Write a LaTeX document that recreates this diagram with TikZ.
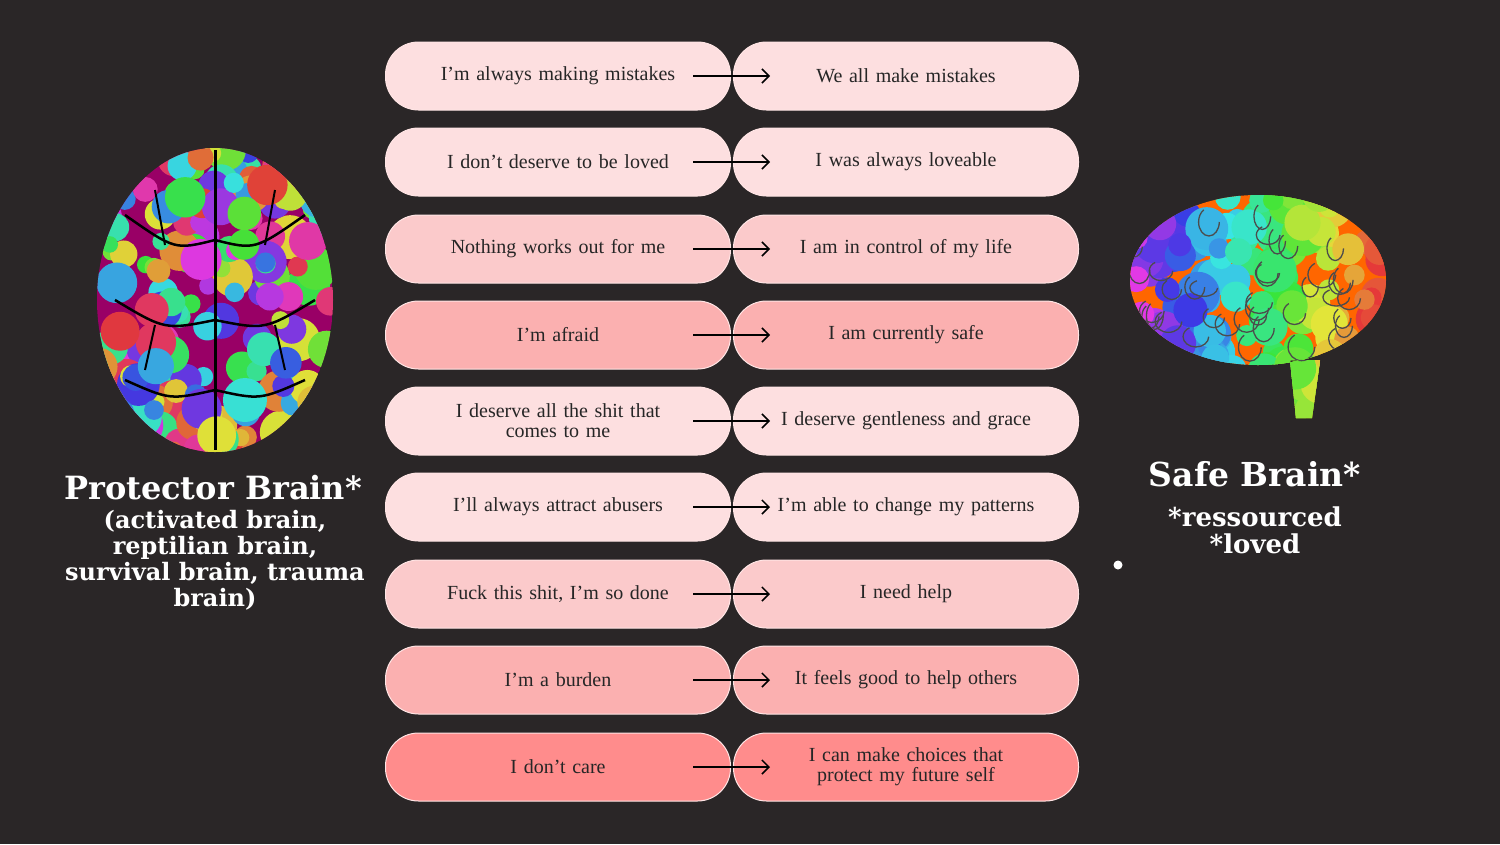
\documentclass[tikz,border=0pt]{standalone}
\usepackage{fontspec}
\setmainfont{DejaVu Serif}
\newfontfamily\pill{Liberation Serif}
\begin{document}
\begin{tikzpicture}[x=1pt,y=-1pt,
  pl/.style={rounded corners=33pt,minimum width=345pt,minimum height=68pt,inner sep=0pt,align=center,font=\pill\fontsize{20}{20}\selectfont,text=black!85,draw=white!60!pink,line width=1pt},
  ar/.style={-{Straight Barb[length=7pt]},line width=1.5pt,black},
  ttl/.style={text=white,font=\bfseries,align=center}]
\usetikzlibrary{arrows.meta}
\definecolor{bg}{HTML}{2A2627}
\definecolor{c1}{HTML}{FDDFE0}
\definecolor{c2}{HTML}{FBCACB}
\definecolor{c3}{HTML}{FBB0B0}
\definecolor{c4}{HTML}{FF8C8C}
\fill[bg] (0,0) rectangle (1500,844);
\useasboundingbox (0,0) rectangle (1500,844);
% left brain
\begin{scope}
\clip (215,300) ellipse (118pt and 152pt);
\fill[red!60!blue] (215,300) ellipse (118pt and 152pt);
\pgfmathsetseed{7}
\foreach \i in {1,...,170}{
  \pgfmathsetmacro{\xx}{97+236*rnd}\pgfmathsetmacro{\yy}{148+304*rnd}
  \pgfmathsetmacro{\hh}{rnd}
  \definecolor{tmp}{hsb}{\hh,0.75,0.88}
  \fill[tmp] (\xx,\yy) circle (8+14*rnd);}
\draw[black,line width=3pt] (215,150)--(215,450);
\foreach \a in {-1,1}{
 \draw[black,line width=2.5pt] (215,240)..controls (215+40*\a,250) ..(215+90*\a,215);
 \draw[black,line width=2.5pt] (215,320)..controls (215+50*\a,330) ..(215+100*\a,300);
 \draw[black,line width=2.5pt] (215,390)..controls (215+45*\a,400) ..(215+90*\a,380);
 \draw[black,line width=2pt] (215+50*\a,245)--(215+60*\a,190);
 \draw[black,line width=2pt] (215+60*\a,325)--(215+70*\a,370);}
\end{scope}
% right brain
\begin{scope}
\clip (1258,280) ellipse (128pt and 85pt) (1290,360) -- (1320,360) -- (1312,418) -- (1296,418) -- cycle;
\fill[orange!80!red] (1100,180) rectangle (1400,430);
\pgfmathsetseed{11}
\foreach \i in {1,...,160}{
  \pgfmathsetmacro{\xx}{1130+256*rnd}\pgfmathsetmacro{\yy}{195+225*rnd}
  \pgfmathsetmacro{\hh}{max(0,min(0.83,(1380-\xx)/300+0.1*rnd-0.05))}
  \definecolor{tmp}{hsb}{\hh,0.75,0.9}
  \fill[tmp] (\xx,\yy) circle (10+12*rnd);}
\pgfmathsetseed{3}
\foreach \i in {1,...,40}{
  \draw[black!70,line width=1.3pt] (1140+230*rnd,210+140*rnd) arc (0:240:8+6*rnd);}
\end{scope}
% titles
\node[ttl,font=\bfseries\fontsize{32}{32}\selectfont] (pt) at (213,488) {Protector Brain*};
\node[ttl,font=\bfseries\fontsize{24}{26}\selectfont] (ps) at (215,560) {(activated brain,\\reptilian brain,\\survival brain, trauma\\brain)};
\node[ttl,font=\bfseries\fontsize{33}{33}\selectfont] (st) at (1255,474) {Safe Brain*};
\node[ttl,font=\bfseries\fontsize{26}{27}\selectfont] (ss) at (1255,530) {*ressourced\\*loved};
\node[circle,fill=white,inner sep=0pt,minimum size=9pt] (dot) at (1118,565) {};
% pills
\foreach \n/\y/\cl/\cr/\lt/\rt in {
 1/76/c1/c1/{I’m always making mistakes}/{We all make mistakes},
 2/162/c1/c1/{I don’t deserve to be loved}/{I was always loveable},
 3/249/c2/c2/{Nothing works out for me}/{I am in control of my life},
 4/335/c3/c3/{I’m afraid}/{I am currently safe},
 5/421/c1/c1/{I deserve all the shit that\\comes to me}/{I deserve gentleness and grace},
 6/507/c1/c1/{I’ll always attract abusers}/{I’m able to change my patterns},
 7/594/c2/c2/{Fuck this shit, I’m so done}/{I need help},
 8/680/c3/c3/{I’m a burden}/{It feels good to help others},
 9/767/c4/c4/{I don’t care}/{I can make choices that\\protect my future self}}{
 \node[pl,fill=\cr,text width=300pt] (r\n) at (906,\y) {\rt};
 \node[pl,fill=\cl,text width=300pt] (l\n) at (558,\y) {\lt};
 \coordinate (a\n) at (693,\y);
 \coordinate (b\n) at (770,\y);
 \draw[ar] (a\n)--(b\n);
}
\end{tikzpicture}
\end{document}
